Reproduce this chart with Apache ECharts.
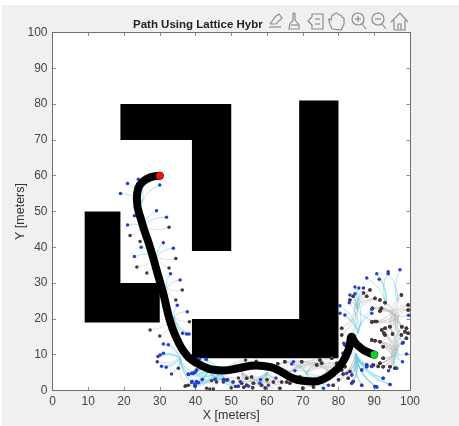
<!DOCTYPE html>
<html><head><meta charset="utf-8">
<style>html,body{margin:0;padding:0;background:#fff}#c{width:459px;height:426px}</style>
<script src="https://cdn.jsdelivr.net/npm/echarts@6/dist/echarts.min.js"></script>
</head><body><div id="c"></div>
<script>
const tickValues=[0,10,20,30,40,50,60,70,80,90,100];
const titleText='Path Using Lattice Hybr';
const xName='X [meters]';
const yName='Y [meters]';
const obstacleLeft=[[9,19],[30,19],[30,30],[19,30],[19,50],[9,50]];
const obstacleTop=[[19,70],[19,80],[50,80],[50,39],[39,39],[39,70]];
const obstacleRight=[[39,9],[80,9],[80,81],[69,81],[69,20],[39,20]];
const pathPoints=[[30,60],[27.5,59.6],[25.5,58.5],[24,56.5],[23.6,53.5],[25,47],[27.3,40],[29.3,33],[31,27],[33,19],[35,14],[37,10.5],[39,8.5],[42,6.8],[45,5.8],[48,5.6],[52,6.2],[57,7],[61,6.5],[64,5.2],[67,3.5],[70,2.7],[73,2.5],[76,3.3],[78.5,5],[80.5,7],[82,9.5],[83,12],[83.7,15],[84.5,13.5],[85.5,12.5],[87.5,11],[90,10]];
const startPoint=[30,60];
const goalPoint=[90,10];

const f1Root=[25,52.4];
const f1Blue=[[19,55],[21,57.8],[24,59],[30,57.4]];
const f1Dark=[];
const f2Root=[25.2,45.8];
const f2Blue=[[29.1,50.2],[31.9,48.4],[22.9,48.8],[21,46.2]];
const f2Dark=[[32.6,45.6],[21.7,43.3],[24.5,41.6]];
const f3Root=[29.1,37.4];
const f3Blue=[[31,41.3],[33.8,39.7],[24.8,40],[22.9,37.4]];
const f3Dark=[[34.5,36.9],[23.6,34.5],[26.4,32.8],[32.6,34.2]];
const f4Root=[31.9,28.6];
const f4Blue=[[33,32.6],[35.7,30.9]];
const f4Dark=[[36.3,28.1],[34.5,25.3]];
const f5Root=[34,20.6];
const f5Blue=[[34.9,23.8],[37.7,22],[36.4,16],[37.5,15.8],[38.2,15.8]];
const f5Dark=[[38.3,19.2],[27.3,16.9],[30,15.2]];
const f6Root=[35.7,9.1];
const f6Blue=[[31,13],[32.4,12.8],[31,10.4],[30.1,9.9],[29.5,9.5],[30.5,6.8],[31.8,6.5],[33.3,4.6],[39.4,4.8],[38,4.6],[38.9,2.2],[40.3,2.5],[39.9,1.5]];
const f6Dark=[[29.3,8],[35.2,6.2],[37.3,1.3]];
const f7Root=[47,5];
const f7Blue=[[38,4.5],[39,4.8],[39.9,5.2],[40.3,5.7],[39,2.5],[39.9,1.8],[40.8,2.2],[39.9,1.2],[41.9,3.1],[45.5,3.1],[48.7,2.9],[47.8,3.1],[50.5,2.4],[52,1.2],[41,8.8],[43,8.7]];
const f7Dark=[[37.1,1.2],[38,1.5],[43.1,0.6],[44,0.4],[45,0.4],[44.5,2.7],[45.9,2.4],[47.8,2.4],[50,0.8],[51.2,1.1],[49,3],[52,3.5],[54,8.5],[57,8.2]];
const f8Root=[60,5];
const f8Blue=[[58.2,3.1],[58,2],[60.4,1.5],[54.8,1.2],[62.5,3.5],[52.5,2.5]];
const f8Dark=[[55.7,3.8],[54.3,3.4],[52.9,2],[54.3,1.5],[56.2,2],[58.5,1.5],[61.8,2.4],[64.1,2.4],[65.5,2.4],[66.4,2],[63.6,0.6],[56,0.8],[59.5,0.7],[53.5,0.9],[60,3]];
const f9Root=[71,5];
const f9Blue=[[67.4,8],[66.9,7.4],[67.8,5.5],[75.8,0.6],[77.2,1.5],[82.3,4.8]];
const f9Dark=[[69.2,3.8],[69.7,8],[73.9,7.1],[75.3,7.6],[74.8,8.5],[78.1,9],[79.5,7.6],[80.9,5.7],[81.8,6.6],[71.6,2.4],[70,0.6],[73,1],[65,8],[63,7.5]];
const f10Root=[95.8,21.1];
const f10Blue=[[98.1,13.4],[99.6,21]];
const f10Dark=[[99.5,23.9],[99.5,22.5],[97.6,26.7],[93,17.4],[92.7,16],[99,17.4],[99.5,16],[97.6,15.5],[91.6,22.2],[90.2,19.3],[89.3,19.1],[95.1,15.8],[92,23],[89.5,23],[93,24.5]];
const f11Root=[93.3,24.2];
const f11Blue=[[87.9,31.4],[90.7,32.6],[91.4,31.1],[93.9,33.2]];
const f11Dark=[];
const f12Root=[96.5,24.9];
const f12Blue=[[93.9,32.6],[97.2,33.7]];
const f12Dark=[];
const f13Root=[95.8,10.4];
const f13Blue=[[97.9,13.2],[99,10.2],[97.9,8],[96.3,6.2],[94,5.5]];
const f13Dark=[[94.4,17.8],[97.7,17.8],[98.6,16.4],[99,14.6],[93,15.5],[92.1,16.9],[89.3,14.1],[90.2,13.9],[91.6,13.6],[92.5,12.2],[92.5,9],[91.6,7.6],[89.7,7.1],[92.5,6.6],[94.4,6.6],[95.8,6.2]];
const f14Root=[85.3,22.5];
const f14Blue=[[83.2,26.7],[84.6,28.9],[85.7,28.6],[87,28.6]];
const f14Dark=[[88.8,28.1],[87,27.2],[90.2,25.8],[91.6,25.3],[90.7,19.3],[80.9,17.4],[80.9,15.5],[81.8,12.7],[83.2,25.3],[84.1,26.3],[87.9,26.3]];
const f15Root=[85.5,16];
const f15Blue=[[89.3,22.7],[89.3,21.6],[80.4,23.7],[81.8,21.1],[80.4,21.6],[81.5,13.2],[84.6,27],[83,24.5]];
const f15Dark=[];
const f16Root=[85.1,9];
const f16Blue=[[86.5,5.7],[83.7,4.3],[81.3,10.4],[90.2,1.1],[90.7,1],[94.4,1.7],[92.5,3.4],[89.3,6.7],[86.5,1.5],[83.7,2],[87.9,6.6]];
const f16Dark=[[81.3,4.6],[83.2,5.3],[87.9,7.1],[91.1,6.7],[84.1,2.5],[82.7,3.4],[78.5,1.5],[80,3]];

const extraRootA=[96.6,20.4];
const extraRootB=[95,22];
const extraRootC=[96.5,11];
const extraRootD=[95,9.8];
const extraRootE=[84.6,23.3];
const extraRootF=[84.8,10.3];
const extraRootG=[53,5];
const extraRootH=[66,5];
const extraRootI=[77,5.5];
const extraRootJ=[43.5,5.5];

const fanList=[[f1Root,f1Blue,f1Dark],[f2Root,f2Blue,f2Dark],[f3Root,f3Blue,f3Dark],[f4Root,f4Blue,f4Dark],[f5Root,f5Blue,f5Dark],[f6Root,f6Blue,f6Dark],[f7Root,f7Blue,f7Dark],[f8Root,f8Blue,f8Dark],[f9Root,f9Blue,f9Dark],[f10Root,f10Blue,f10Dark],[f11Root,f11Blue,f11Dark],[f12Root,f12Blue,f12Dark],[f13Root,f13Blue,f13Dark],[f14Root,f14Blue,f14Dark],[f15Root,f15Blue,f15Dark],[f16Root,f16Blue,f16Dark],
[extraRootA,[],f10Dark],[extraRootB,[],f10Dark],[extraRootC,[],f13Dark],[extraRootD,[],f13Dark],[extraRootE,[],f14Dark],[extraRootF,f16Blue,f16Dark],[extraRootG,[],f8Dark],[extraRootH,[],f9Dark],[extraRootI,[],f9Dark],[extraRootJ,f7Blue,[]]];

const CYAN='#5ccbe6',GRAY='#bdbdbd',BLUE='#2a3ccb',DARK='#45373a',ICON='#8c8c8c';
function edges(idx,color,w){
  const out=[];
  fanList.forEach(f=>{
    const r=f[0];
    f[idx].forEach(t=>{
      const dx=t[0]-r[0],dy=t[1]-r[1];
      const s=(dx>=0?1:-1)*(dy>=0?1:-1);
      out.push({coords:[r,t],lineStyle:{color:color,width:w,curveness:0.22*s}});
    });
  });
  return out;
}
function tips(idx){const o=[];fanList.forEach(f=>f[idx].forEach(t=>o.push(t)));return o;}
function poly(pts){
  return {type:'custom',coordinateSystem:'cartesian2d',silent:true,z:2,clip:true,data:[[0,0]],
    renderItem:(p,api)=>({type:'polygon',shape:{points:pts.map(q=>api.coord(q))},style:{fill:'#000'}})};
}
const line=(pts,w)=>({type:'polyline',z:10,silent:true,shape:{points:pts},style:{fill:null,stroke:ICON,lineWidth:w||1.2}});
const ring=(x,y,r)=>({type:'circle',z:10,silent:true,shape:{cx:x,cy:y,r:r},style:{fill:null,stroke:ICON,lineWidth:1.2}});
const icons=[
  line([[269,27],[281,27]]),line([[270,24],[276,16],[279,14],[282,18],[276,24],[270,24]]),
  line([[295,13],[295,20],[299,25],[299,29],[289,29],[290,24],[293,20],[293,13],[295,13]]),line([[291,25],[298,25]]),
  line([[308,21],[312,17],[312,14],[323,14],[323,29],[312,29],[312,25],[308,21]]),line([[315,19],[320,19]]),line([[315,24],[320,24]]),
  line([[332,29],[329,22],[329,19],[331,20],[332,15],[334,15],[335,13],[337,13],[339,15],[341,15],[342,17],[344,18],[344,24],[341,30],[332,29]]),
  ring(358,19,6),line([[362,24],[366,29]]),line([[355,19],[361,19]]),line([[358,16],[358,22]]),
  ring(378,19,6),line([[382,24],[386,29]]),line([[375,19],[381,19]]),
  line([[391,22],[400,13],[408,22]]),line([[394,20],[394,30],[405,30],[405,20]]),line([[398,30],[398,24],[401,24],[401,30]])
];
const axisCommon={type:'value',min:0,max:100,interval:10,splitLine:{show:false},
  axisLine:{show:true,onZero:false,lineStyle:{color:'#6f6f6f',width:1}},
  axisTick:{show:true,inside:true,length:3.5,lineStyle:{color:'#6f6f6f',width:0.8}}};
const labelStyle={show:true,color:'#444',fontSize:12,fontFamily:'Liberation Sans',margin:5,
  formatter:v=>tickValues.includes(v)?String(v):''};
const nameStyle={color:'#333',fontSize:12.5,fontFamily:'Liberation Sans'};
const chart=echarts.init(document.getElementById('c'),null,{renderer:'canvas'});
chart.setOption({
  animation:false,
  backgroundColor:'#fff',
  grid:{left:52.5,top:32.5,width:357.5,height:358,outerBoundsMode:'none',containLabel:false,show:true,backgroundColor:'#fff',borderWidth:0},
  xAxis:[
    Object.assign({},axisCommon,{position:'bottom',axisLabel:labelStyle,name:xName,nameLocation:'middle',nameGap:19,nameMoveOverlap:false,nameTextStyle:nameStyle}),
    Object.assign({},axisCommon,{position:'top',axisLabel:{show:false}})
  ],
  yAxis:[
    Object.assign({},axisCommon,{position:'left',axisLabel:labelStyle,name:yName,nameLocation:'middle',nameGap:25,nameMoveOverlap:false,nameTextStyle:nameStyle}),
    Object.assign({},axisCommon,{position:'right',axisLabel:{show:false}})
  ],
  graphic:[
    {type:'rect',z:-10,silent:true,shape:{x:2,y:5,width:457,height:421},style:{fill:'#f0f0f0'}},
    {type:'text',z:10,silent:true,x:133,y:18.5,style:{text:titleText,fill:'#222',font:'bold 11.5px "Liberation Sans"'}}
  ].concat(icons),
  series:[
    poly(obstacleLeft),poly(obstacleTop),poly(obstacleRight),
    {type:'lines',coordinateSystem:'cartesian2d',z:3,silent:true,polyline:false,data:edges(2,GRAY,0.9)},
    {type:'lines',coordinateSystem:'cartesian2d',z:4,silent:true,polyline:false,data:edges(1,CYAN,1)},
    {type:'scatter',z:5,silent:true,symbolSize:3.5,itemStyle:{color:DARK,opacity:1},data:tips(2)},
    {type:'scatter',z:6,silent:true,symbolSize:3.5,itemStyle:{color:BLUE,opacity:1},data:tips(1)},
    {type:'line',z:7,silent:true,smooth:0.5,showSymbol:false,lineStyle:{color:'#000',width:8,cap:'round',join:'round'},data:pathPoints},
    {type:'scatter',z:8,silent:true,symbolSize:7.5,itemStyle:{color:'#f01010',opacity:1},data:[startPoint]},
    {type:'scatter',z:8,silent:true,symbolSize:7.5,itemStyle:{color:'#10d020',opacity:1},data:[goalPoint]}
  ]
});
</script></body></html>
